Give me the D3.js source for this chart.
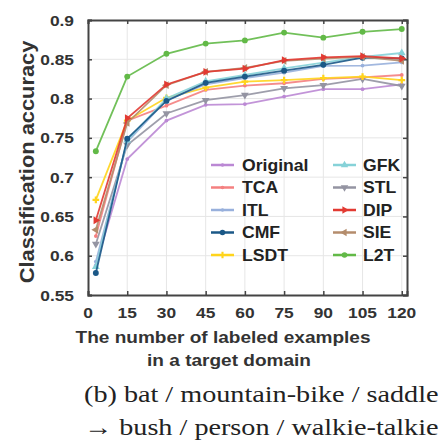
<!DOCTYPE html>
<html><head><meta charset="utf-8">
<script src="https://cdn.jsdelivr.net/npm/d3@7"></script>
<style>
html,body{margin:0;padding:0;background:#fff;}
svg{display:block;}
.sans{font-family:"Liberation Sans",Arial,sans-serif;}
.serif{font-family:"Liberation Serif","Times New Roman",serif;}
</style></head>
<body>
<svg id="c" width="446" height="441"></svg>
<script>
const xs = [3, 15, 30, 45, 60, 75, 90, 105, 120];
const xTicks = [0, 15, 30, 45, 60, 75, 90, 105, 120];
const yTicks = [0.55, 0.6, 0.65, 0.7, 0.75, 0.8, 0.85, 0.9];
const yTickLabels = ["0.55","0.6","0.65","0.7","0.75","0.8","0.85","0.9"];

const Original = [0.588, 0.723, 0.772, 0.792, 0.793, 0.8025, 0.812, 0.812, 0.818];
const TCA      = [0.625, 0.772, 0.791, 0.811, 0.8165, 0.8195, 0.825, 0.827, 0.830];
const ITL      = [0.5925, 0.745, 0.798, 0.818, 0.826, 0.833, 0.8415, 0.842, 0.846];
const CMF      = [0.578, 0.749, 0.797, 0.820, 0.828, 0.8355, 0.843, 0.852, 0.851];
const LSDT     = [0.671, 0.772, 0.801, 0.814, 0.8215, 0.8235, 0.826, 0.828, 0.8235];
const GFK      = [0.586, 0.747, 0.800, 0.822, 0.830, 0.8385, 0.8457, 0.853, 0.858];
const STL      = [0.615, 0.741, 0.781, 0.798, 0.8045, 0.813, 0.817, 0.825, 0.816];
const DIP      = [0.645, 0.775, 0.818, 0.834, 0.838, 0.849, 0.8525, 0.854, 0.851];
const SIE      = [0.633, 0.769, 0.817, 0.834, 0.839, 0.848, 0.851, 0.853, 0.848];
const L2T      = [0.733, 0.828, 0.857, 0.870, 0.874, 0.884, 0.8775, 0.885, 0.8885];

const names  = ["Original","TCA","ITL","CMF","LSDT","GFK","STL","DIP","SIE","L2T"];
const values = [Original, TCA, ITL, CMF, LSDT, GFK, STL, DIP, SIE, L2T];
const colors = ["#bb88d4","#f48080","#98b0dc","#1b5887","#ffd41c","#86d2d8","#9494a2","#e23a32","#b48c6c","#62b947"];
const markers = ["dot","dot","dot","circle","star","triUp","triDown","triRight","triLeft","circle"];

const svg = d3.select("#c");
const L = 88, R = 407, T = 20, B = 295;
const x = d3.scaleLinear().domain([0, 122]).range([L, R]);
const y = d3.scaleLinear().domain([0.55, 0.9]).range([B, T]);

// grid
const g = svg.append("g");
g.selectAll("line.vg").data(xTicks.slice(1)).join("line")
  .attr("x1", d => x(d)).attr("x2", d => x(d)).attr("y1", T).attr("y2", B)
  .attr("stroke", "#e6e6e6").attr("stroke-width", 1);
g.selectAll("line.hg").data(yTicks.slice(1, -1)).join("line")
  .attr("x1", L).attr("x2", R).attr("y1", d => y(d)).attr("y2", d => y(d))
  .attr("stroke", "#e6e6e6").attr("stroke-width", 1);

// axes with inward ticks
const axB = d3.axisBottom(x).tickValues(xTicks).tickSize(-4).tickFormat("");
const axT = d3.axisTop(x).tickValues(xTicks).tickSize(-4).tickFormat("");
const axLft = d3.axisLeft(y).tickValues(yTicks).tickSize(-4).tickFormat("");
const axRt = d3.axisRight(y).tickValues(yTicks).tickSize(-4).tickFormat("");
[[axB, `translate(0,${B})`],[axT, `translate(0,${T})`],[axLft, `translate(${L},0)`],[axRt, `translate(${R},0)`]].forEach(([a, tr]) => {
  const ga = svg.append("g").attr("transform", tr).call(a);
  ga.selectAll("path").attr("stroke", "#444").attr("stroke-width", 2);
  ga.selectAll("line").attr("stroke", "#444").attr("stroke-width", 1.5);
});

// tick labels
svg.append("g").attr("class", "sans").selectAll("text").data(yTicks).join("text")
  .attr("transform", d => `translate(74,${y(d)}) scale(1.12,1)`)
  .attr("text-anchor", "end").attr("dy", "0.36em")
  .attr("font-size", 15.5).attr("font-weight", "bold").attr("fill", "#333")
  .text((d, i) => yTickLabels[i]);
svg.append("g").attr("class", "sans").selectAll("text").data(xTicks).join("text")
  .attr("transform", d => `translate(${x(d)},312) scale(1.12,1)`)
  .attr("text-anchor", "middle").attr("dy", "0.36em")
  .attr("font-size", 15.5).attr("font-weight", "bold").attr("fill", "#333")
  .text(d => d);

// axis titles
svg.append("text").attr("class", "sans").attr("transform", "translate(34,162) rotate(-90) scale(1.12,1)")
  .attr("text-anchor", "middle").attr("font-size", 19.5).attr("font-weight", "bold").attr("fill", "#333")
  .text("Classification accuracy");
svg.append("text").attr("class", "sans").attr("transform", "translate(223,343) scale(1.14,1)")
  .attr("text-anchor", "middle").attr("font-size", 16.7).attr("font-weight", "bold").attr("fill", "#333")
  .text("The number of labeled examples");
svg.append("text").attr("class", "sans").attr("transform", "translate(229,366) scale(1.14,1)")
  .attr("text-anchor", "middle").attr("font-size", 16.7).attr("font-weight", "bold").attr("fill", "#333")
  .text("in a target domain");

// caption
svg.append("text").attr("class", "serif").attr("transform", "translate(84,402) scale(1.2,1)")
  .attr("font-size", 23.5).attr("fill", "#222")
  .text("(b) bat / mountain-bike / saddle");
svg.append("text").attr("class", "serif").attr("transform", "translate(84,435) scale(1.2,1)")
  .attr("font-size", 23.5).attr("fill", "#222")
  .text("\u2192 bush / person / walkie-talkie");

// marker drawing
function drawMarker(sel, type, color, s) {
  if (type === "dot") {
    sel.append("circle").attr("r", s * 0.45).attr("fill", color);
  } else if (type === "circle") {
    sel.append("circle").attr("r", s * 0.7).attr("fill", color);
  } else if (type === "star") {
    sel.append("path").attr("d", d3.symbol(d3.symbolCross, s * s * 1.4)()).attr("fill", color);
  } else {
    const rot = {triUp: 0, triDown: 180, triRight: 90, triLeft: -90}[type];
    sel.append("path").attr("d", d3.symbol(d3.symbolTriangle, s * s * 1.5)())
      .attr("transform", `rotate(${rot})`).attr("fill", color);
  }
}

// lines
const line = d3.line().x((d, i) => x(xs[i])).y(d => y(d));
const order = [0, 6, 1, 4, 2, 5, 3, 8, 7, 9];
order.forEach(k => {
  const gs = svg.append("g");
  gs.append("path").datum(values[k]).attr("d", line)
    .attr("fill", "none").attr("stroke", colors[k]).attr("stroke-width", 1.8).attr("stroke-opacity", 0.9);
  values[k].forEach((v, i) => {
    const m = gs.append("g").attr("transform", `translate(${x(xs[i])},${y(v)})`);
    drawMarker(m, markers[k], colors[k], 4.2);
  });
});

// legend
const legCols = [[211, 242], [333, 363]];
const legRows = [165, 187.5, 210, 232.5, 255];
names.forEach((n, k) => {
  const c = Math.floor(k / 5), r = k % 5;
  const lg = svg.append("g").attr("transform", `translate(0,${legRows[r]})`);
  lg.append("line").attr("x1", legCols[c][0]).attr("x2", legCols[c][0] + 23).attr("y1", 0).attr("y2", 0)
    .attr("stroke", colors[k]).attr("stroke-width", 2.5);
  const m = lg.append("g").attr("transform", `translate(${legCols[c][0] + 11.5},0)`);
  drawMarker(m, markers[k], colors[k], 4);
  lg.append("text").attr("class", "sans").attr("transform", `translate(${legCols[c][1]},0) scale(1.08,1)`).attr("dy", "0.36em")
    .attr("font-size", 16.3).attr("font-weight", "bold").attr("fill", "#222").text(n);
});
</script>
</body></html>
